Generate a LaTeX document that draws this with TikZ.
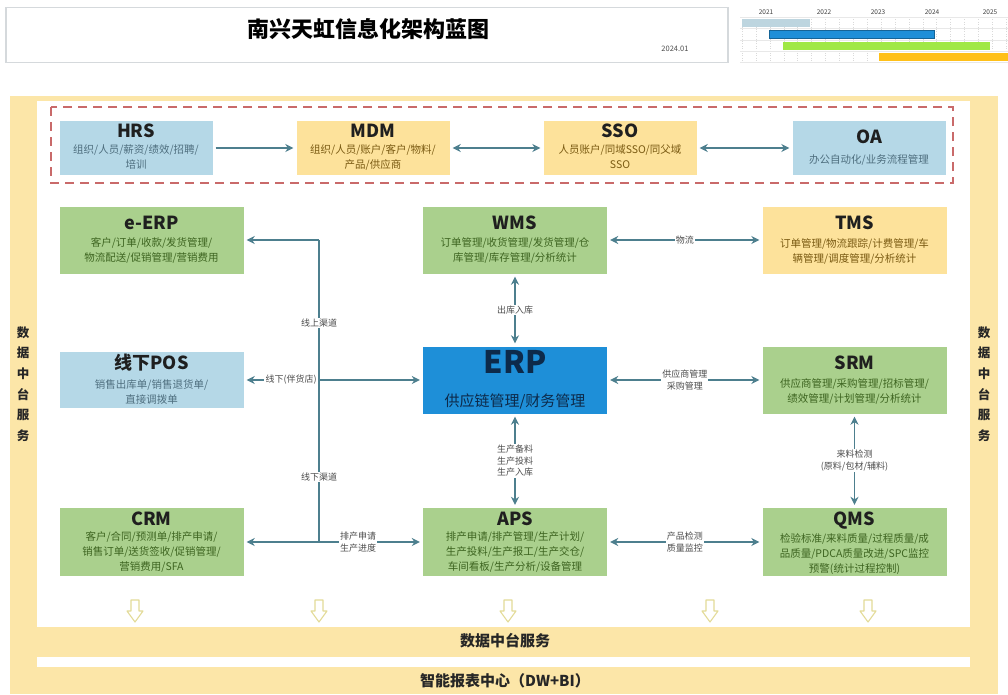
\documentclass[tikz,border=0pt]{standalone}
\usepackage{fontspec}
\setmainfont{Noto Sans CJK SC}
\usetikzlibrary{arrows.meta}
\definecolor{fy}{HTML}{FCE6A8}
\definecolor{bxblue}{HTML}{B5D8E7}
\definecolor{bxyel}{HTML}{FDE29B}
\definecolor{bxgrn}{HTML}{AAD08D}
\definecolor{erpblue}{HTML}{1E8FD8}
\definecolor{navy}{HTML}{0D2A4A}
\definecolor{arr}{HTML}{4D7F8E}
\definecolor{dgreen}{HTML}{3D6420}
\definecolor{dyel}{HTML}{7A5A12}
\definecolor{dblue}{HTML}{4E6E7E}
\definecolor{tgray}{HTML}{D5D9DC}
\definecolor{dashc}{HTML}{C96A6A}
\definecolor{hollow}{HTML}{E3DB98}
\tikzset{
  bx/.style={inner sep=0pt, minimum width=184, minimum height=67},
  bxtop/.style={inner sep=0pt, minimum width=153, minimum height=54},
  ttl/.style={font=\bfseries\fontsize{18}{20}\selectfont, text=black!88, inner sep=0pt},
  dsc/.style={font=\fontsize{10.5}{15}\selectfont, align=center, inner sep=0pt},
  lbl/.style={font=\fontsize{9}{11.5}\selectfont, text=black!70, fill=white, inner sep=1.2pt, align=center},
  conn/.style={draw=arr, line width=1.3pt, shorten >=3pt, shorten <=3pt},
  one/.style={conn, -{Stealth[length=8pt,width=8pt]}},
  two/.style={conn, {Stealth[length=8pt,width=8pt]}-{Stealth[length=8pt,width=8pt]}},
  plain/.style={draw=arr, line width=1.3pt},
  side/.style={font=\bfseries\fontsize{12.5}{20.6}\selectfont, align=center, text=black!85, inner sep=0pt},
  band/.style={font=\bfseries\fontsize{15}{17}\selectfont, text=black!85, inner sep=0pt},
  yr/.style={font=\fontsize{6.5}{8}\selectfont, text=black!75, inner sep=0pt}
}
\begin{document}
\begin{tikzpicture}[x=1pt,y=-1pt]
\useasboundingbox (0,0) rectangle (1008,694);
\fill[white] (0,0) rectangle (1008,694);

% ---------- title ----------
\node[draw=tgray, line width=1.3pt, fill=white, minimum width=722, minimum height=55, inner sep=0pt] (tbox) at (367,35) {};
\node[font=\bfseries\fontsize{22}{24}\selectfont, inner sep=0pt] (title) at (368,29) {南兴天虹信息化架构蓝图};
\node[font=\fontsize{7.5}{9}\selectfont, text=black!70, inner sep=0pt] (date) at (675,49) {2024.01};

% ---------- timeline ----------
\foreach \i in {0,...,19} \draw[gray!30, dotted] ({742+\i*13.9},17) -- ({742+\i*13.9},62);
\foreach \yy in {17,28.5,40,51,62} \draw[gray!18] (740,\yy) -- (1008,\yy);
\node[yr] (y1) at (766,12) {2021};
\node[yr] (y2) at (824,12) {2022};
\node[yr] (y3) at (878,12) {2023};
\node[yr] (y4) at (932,12) {2024};
\node[yr] (y5) at (990,12) {2025};
\fill[fill=bxblue!85!gray!80] (742,18.5) rectangle (810,27);
\filldraw[fill=erpblue, draw=erpblue!70!black] (769,30) rectangle (934,38.5);
\fill[fill=bxgrn!70!green!70!yellow] (783,41.5) rectangle (990,50);
\fill[fill=orange!55!yellow!90!white] (879,52.5) rectangle (1008,61);

% ---------- frame ----------
\fill[fy] (10,96) rectangle (998,694);
\fill[white] (37,101) rectangle (970,627);
\fill[white] (37,657) rectangle (970,667);
\node[side] (sideL) at (23,384) {数\\据\\中\\台\\服\\务};
\node[side] (sideR) at (984,384) {数\\据\\中\\台\\服\\务};
\node[band] (band1) at (505,641) {数据中台服务};
\node[band] (band2) at (505,681) {智能报表中心（DW+BI）};

% hollow arrows
\foreach \ax in {135,319,508,710,868}
  \draw[hollow, line width=1.1pt, fill=white, line join=round]
    ({\ax-4},600) -- ({\ax+4},600) -- ({\ax+4},611) -- ({\ax+8},611) -- (\ax,622) -- ({\ax-8},611) -- ({\ax-4},611) -- cycle;

% ---------- dashed group ----------
\draw[dashc, line width=1.2pt, dash pattern=on 9pt off 6pt] (51,107) rectangle (953,183);

% ---------- top row ----------
\node[bxtop, fill=bxblue] (hrs) at (136,148) {};
\node[ttl] (hrsT) at (136,131) {HRS};
\node[dsc, text=dblue] (hrsD) at (136,157) {组织/人员/薪资/绩效/招聘/\\培训};

\node[bxtop, fill=bxyel] (mdm) at (373,148) {};
\node[ttl] (mdmT) at (373,131) {MDM};
\node[dsc, text=dyel] (mdmD) at (373,157) {组织/人员/账户/客户/物料/\\产品/供应商};

\node[bxtop, fill=bxyel] (sso) at (620,148) {};
\node[ttl] (ssoT) at (620,131) {SSO};
\node[dsc, text=dyel] (ssoD) at (620,157) {人员账户/同域SSO/同父域\\SSO};

\node[bxtop, fill=bxblue] (oa) at (869,148) {};
\node[ttl] (oaT) at (869,137) {OA};
\node[dsc, text=dblue] (oaD) at (869,160) {办公自动化/业务流程管理};

\draw[one] (hrs.east) -- (mdm.west);
\draw[two] (mdm.east) -- (sso.west);
\draw[two] (sso.east) -- (oa.west);

% ---------- row 2 ----------
\node[bx, fill=bxgrn] (eerp) at (151.5,240) {};
\node[ttl] (eerpT) at (151.5,223) {e-ERP};
\node[dsc, text=dgreen] (eerpD) at (151.5,250) {客户/订单/收款/发货管理/\\物流配送/促销管理/营销费用};

\node[bx, fill=bxgrn] (wms) at (515,240) {};
\node[ttl] (wmsT) at (515,223) {WMS};
\node[dsc, text=dgreen] (wmsD) at (515,250) {订单管理/收货管理/发货管理/仓\\库管理/库存管理/分析统计};

\node[bx, fill=bxyel] (tms) at (854.5,240) {};
\node[ttl] (tmsT) at (854.5,223) {TMS};
\node[dsc, text=dyel] (tmsD) at (854.5,251) {订单管理/物流跟踪/计费管理/车\\辆管理/调度管理/分析统计};

\draw[two] (wms.east) -- node[lbl] (lwl) {物流} (tms.west);

% ---------- row 3 ----------
\node[bx, fill=bxblue, minimum height=56] (pos) at (151.5,380) {};
\node[ttl] (posT) at (151.5,363) {线下POS};
\node[dsc, text=dblue] (posD) at (151.5,392) {销售出库单/销售退货单/\\直接调拨单};

\node[bx, fill=erpblue] (erp) at (515,380) {};
\node[font=\bfseries\fontsize{31}{33}\selectfont, text=navy, inner sep=0pt] (erpT) at (515,362) {ERP};
\node[font=\fontsize{15}{17}\selectfont, text=navy, inner sep=0pt] (erpD) at (515,401) {供应链管理/财务管理};

\node[bx, fill=bxgrn] (srm) at (854.5,380) {};
\node[ttl] (srmT) at (854.5,363) {SRM};
\node[dsc, text=dgreen] (srmD) at (854.5,391) {供应商管理/采购管理/招标管理/\\绩效管理/计划管理/分析统计};

\draw[two] (erp.east) -- node[lbl] (lsrm) {供应商管理\\采购管理} (srm.west);
\draw[two] (wms.south) -- node[lbl] (lwe) {出库入库} (erp.north);

% ---------- row 4 ----------
\node[bx, fill=bxgrn, minimum height=68] (crm) at (151.5,542) {};
\node[ttl] (crmT) at (151.5,519) {CRM};
\node[dsc, text=dgreen] (crmD) at (151.5,552) {客户/合同/预测单/排产申请/\\销售订单/送货签收/促销管理/\\营销费用/SFA};

\node[bx, fill=bxgrn, minimum height=68] (aps) at (515,542) {};
\node[ttl] (apsT) at (515,519) {APS};
\node[dsc, text=dgreen] (apsD) at (515,552) {排产申请/排产管理/生产计划/\\生产投料/生产报工/生产交仓/\\车间看板/生产分析/设备管理};

\node[bx, fill=bxgrn, minimum height=68] (qms) at (854.5,542) {};
\node[ttl] (qmsT) at (854.5,521) {QMS};
\node[dsc, text=dgreen] (qmsD) at (854.5,554) {检验标准/来料质量/过程质量/成\\品质量/PDCA质量改进/SPC监控\\预警(统计过程控制)};

\draw[two] (erp.south) -- node[lbl] (lea) {生产备料\\生产投料\\生产入库} (aps.north);
\draw[two] (srm.south) -- node[lbl] (lsq) {来料检测\\(原料/包材/辅料)} (qms.north);
\draw[two] (aps.east) -- node[lbl] (laq) {产品检测\\质量监控} (qms.west);

% ---------- channel ----------
\coordinate (jt) at (319,240);
\coordinate (jb) at (319,542);
\draw[plain] (jt) -- (jb);
\draw[one, shorten <=0pt] (jt) -- (eerp.east);
\draw[two] (pos.east) -- (erp.west);
\draw[two] (crm.east) -- (aps.west);
\node[lbl] (lon) at (319,323) {线上渠道};
\node[lbl] (loff) at (319,477) {线下渠道};
\node[lbl, anchor=east] (lpos) at (318,380) {线下(伴货店)};
\node[lbl] (lcrm) at (358,542) {排产申请\\生产进度};
\end{tikzpicture}
\end{document}
